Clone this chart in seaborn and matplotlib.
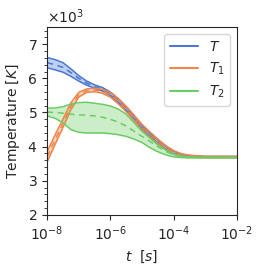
import numpy as np
import pandas as pd
import matplotlib
matplotlib.use("Agg")
import matplotlib.pyplot as plt
import seaborn as sns
from matplotlib.ticker import AutoMinorLocator, NullLocator, FixedLocator

# -------------------------------
# Data (temperatures in 10^3 K)
# -------------------------------
log_t = [-8, -7.75, -7.5, -7.25, -7, -6.75, -6.5, -6.25, -6, -5.75, -5.5, -5.25,
         -5, -4.75, -4.5, -4.25, -4, -3.75, -3.5, -3.25, -3, -2.5, -2]

T_mean = [6.46, 6.40, 6.32, 6.17, 6.00, 5.86, 5.76, 5.68, 5.55, 5.35, 5.12, 4.85,
          4.58, 4.35, 4.15, 3.97, 3.83, 3.75, 3.72, 3.71, 3.70, 3.70, 3.70]
T_spread = [0.15, 0.15, 0.14, 0.11, 0.08, 0.06, 0.05, 0.05, 0.05, 0.05, 0.05, 0.05,
            0.05, 0.05, 0.05, 0.045, 0.04, 0.03, 0.02, 0.015, 0.01, 0.01, 0.01]

T1_mean = [3.70, 4.20, 4.68, 5.18, 5.52, 5.64, 5.66, 5.62, 5.52, 5.33, 5.10, 4.84,
           4.57, 4.35, 4.15, 3.97, 3.83, 3.75, 3.72, 3.71, 3.70, 3.70, 3.70]
T1_spread = [0.15, 0.14, 0.12, 0.10, 0.07, 0.05, 0.05, 0.06, 0.07, 0.08, 0.08, 0.08,
             0.08, 0.08, 0.07, 0.06, 0.05, 0.04, 0.03, 0.02, 0.02, 0.02, 0.02]

T2_mean = [5.01, 5.00, 4.98, 4.95, 4.93, 4.92, 4.90, 4.86, 4.80, 4.72, 4.60, 4.45,
           4.30, 4.15, 4.00, 3.86, 3.76, 3.71, 3.69, 3.68, 3.68, 3.68, 3.68]
T2_high = [5.13, 5.13, 5.17, 5.25, 5.29, 5.30, 5.27, 5.24, 5.19, 5.10, 4.95, 4.70,
           4.45, 4.25, 4.05, 3.90, 3.78, 3.72, 3.70, 3.69, 3.69, 3.69, 3.69]
T2_low = [4.90, 4.83, 4.70, 4.50, 4.42, 4.40, 4.40, 4.40, 4.38, 4.35, 4.30, 4.22,
          4.12, 3.97, 3.85, 3.76, 3.70, 3.68, 3.67, 3.67, 3.67, 3.67, 3.67]

labels = ["$T$", "$T_1$", "$T_2$"]

# -------------------------------
# Build table
# -------------------------------
t = 10.0 ** np.array(log_t)
series = {
    "$T$": (np.array(T_mean), np.array(T_mean) - np.array(T_spread), np.array(T_mean) + np.array(T_spread)),
    "$T_1$": (np.array(T1_mean), np.array(T1_mean) - np.array(T1_spread), np.array(T1_mean) + np.array(T1_spread)),
    "$T_2$": (np.array(T2_mean), np.array(T2_low), np.array(T2_high)),
}

colors = sns.color_palette("muted")[:3]

sns.set_style("ticks")
plt.rcParams["font.family"] = ["DejaVu Sans"]

fig = plt.figure(figsize=(2.66, 2.66), dpi=100)
ax = fig.add_axes([0.177, 0.192, 0.714, 0.706])

for lab, col in zip(labels, colors):
    mean, low, high = series[lab]
    df = pd.DataFrame({"t": t, "mean": mean * 1000, "low": low * 1000, "high": high * 1000})
    ax.fill_between(df["t"], df["low"], df["high"], color=col, alpha=0.35, linewidth=0)
    sns.lineplot(data=df, x="t", y="high", ax=ax, color=col, linewidth=1.1, label=lab)
    sns.lineplot(data=df, x="t", y="low", ax=ax, color=col, linewidth=1.1)
    sns.lineplot(data=df, x="t", y="mean", ax=ax, color=col, linewidth=1.1, linestyle=(0, (4, 3)))

ax.set_xscale("log")
ax.set_xlim(1e-8, 1e-2)
ax.set_ylim(2000, 7500)
ax.xaxis.set_major_locator(FixedLocator([1e-8, 1e-6, 1e-4, 1e-2]))
ax.xaxis.set_minor_locator(NullLocator())
ax.yaxis.set_minor_locator(AutoMinorLocator(5))
ax.ticklabel_format(axis="y", style="sci", scilimits=(3, 3), useMathText=True)

ax.set_xlabel("$t$  $[s]$", fontsize=10)
ax.set_ylabel("Temperature $[K]$", fontsize=10)
ax.tick_params(labelsize=10)
ax.yaxis.get_offset_text().set_fontsize(10)

leg = ax.legend(loc="upper right", fontsize=10, handlelength=2.0)
for line in leg.get_lines():
    line.set_linewidth(1.5)

fig.savefig("out.png", dpi=100)
